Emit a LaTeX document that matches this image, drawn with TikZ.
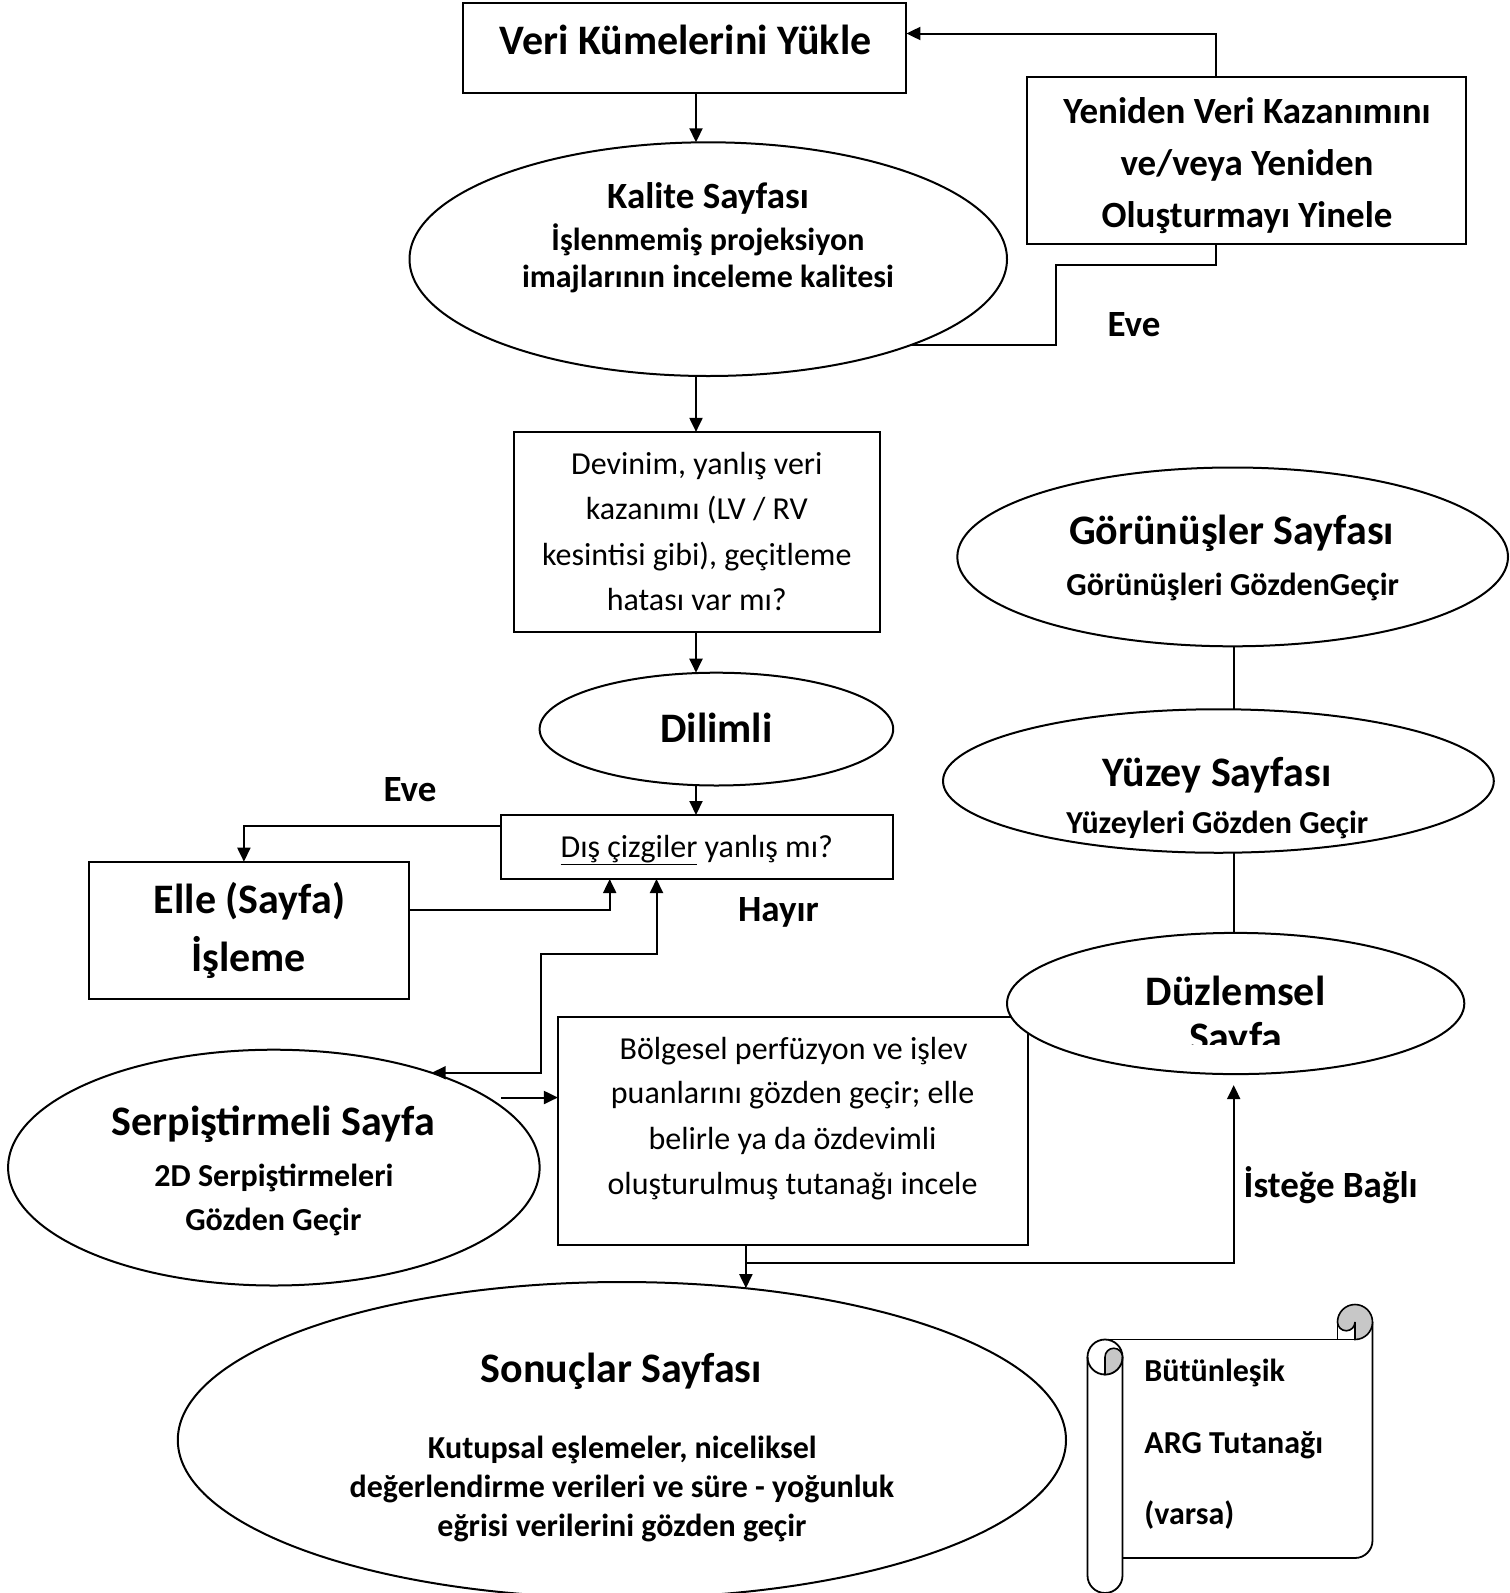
\documentclass[tikz,border=0pt]{standalone}
\usepackage{fontspec}
\setmainfont{Carlito}
\usetikzlibrary{arrows.meta,shapes.geometric}
\newcommand\fbig{\fontsize{42pt}{50pt}\selectfont\bfseries}
\newcommand\fmid{\fontsize{37pt}{44pt}\selectfont\bfseries}
\newcommand\fsb{\fontsize{32pt}{38pt}\selectfont\bfseries}
\newcommand\freg{\fontsize{32pt}{38pt}\selectfont}
\begin{document}
\begin{tikzpicture}[x=1pt,y=-1pt,
  shp/.style={draw,line width=2pt,inner sep=0pt,outer sep=0pt},
  boxs/.style={shp,rectangle},
  ell/.style={shp,ellipse},
  tx/.style={inner sep=0pt,anchor=base},
  conn/.style={line width=2pt},
  arr/.style={conn,-{Triangle[length=14pt,width=13pt]}},
  arrb/.style={conn,{Triangle[length=14pt,width=13pt]}-{Triangle[length=14pt,width=13pt]}},
  rollgrey/.style={fill=black!22,draw,line width=1.6pt},
  scl/.style={line width=1.8pt}]
\useasboundingbox (0,0) rectangle (1510,1593);
\fill[white] (0,0) rectangle (1510,1593);

% helper coordinates
\coordinate (ax) at (696,0);
\coordinate (yx) at (1216.4,0);
\coordinate (ya) at (0,33.5);
\coordinate (ex) at (1055.8,265.2);
\coordinate (c2) at (0,909.5);
\coordinate (c3) at (609.7,0);
\coordinate (c4) at (0,826);
\coordinate (c5) at (243.9,0);
\coordinate (c1) at (656.5,0);
\coordinate (sb) at (540.6,954.2);
\coordinate (c6) at (745.9,0);
\coordinate (c7) at (0,1263.1);
\coordinate (c8) at (1233.7,0);
\coordinate (sa) at (501,1097.5);

% shapes
\node[boxs,minimum width=443pt,minimum height=89.5pt] (veri) at (684.9,47.75) {};
\node[ell,minimum width=597.5pt,minimum height=233.7pt] (kalite) at (708.25,259.15) {};
\node[boxs,minimum width=439pt,minimum height=166.7pt] (yen) at (1246.9,160.55) {};
\node[boxs,minimum width=365.8pt,minimum height=200.1pt] (dev) at (697.1,531.95) {};
\node[ell,minimum width=353.6pt,minimum height=112.8pt] (dil) at (716.4,729.1) {};
\node[boxs,minimum width=392.2pt,minimum height=64pt] (dis) at (697.1,847) {};
\node[boxs,minimum width=319.1pt,minimum height=137.3pt] (elle) at (248.95,930.35) {};
\node[ell,minimum width=531.5pt,minimum height=235.8pt] (serp) at (273.85,1167.6) {};
\node[boxs,minimum width=470.5pt,minimum height=227.6pt] (bol) at (793.15,1131) {};
\node[ell,fill=white,minimum width=457.3pt,minimum height=141.2pt] (duz) at (1235.65,1003.5) {};
\node[ell,minimum width=550.7pt,minimum height=178.8pt] (gor) at (1232.65,556.9) {};
\node[ell,minimum width=550.8pt,minimum height=143.5pt] (yuz) at (1218.4,781) {};
\node[ell,minimum width=888.2pt,minimum height=316pt] (sonuc) at (621.9,1440) {};

% texts
\node[tx,font=\fbig] (t1) at (685.5,54) {Veri Kümelerini Yükle};
\node[tx,font=\fmid] (t2) at (708,208.5) {Kalite Sayfası};
\node[tx,font=\fsb] (t3) at (708,250) {İşlenmemiş projeksiyon};
\node[tx,font=\fsb] (t4) at (708,287.5) {imajlarının inceleme kalitesi};
\node[tx,font=\fmid] (t5) at (1247,123) {Yeniden Veri Kazanımını};
\node[tx,font=\fmid] (t6) at (1247,175.5) {ve/veya Yeniden};
\node[tx,font=\fmid] (t7) at (1247,227.5) {Oluşturmayı Yinele};
\node[tx,font=\fmid] (eve1) at (1134,336) {Eve};
\node[tx,font=\freg] (t8) at (696.8,474) {Devinim, yanlış veri};
\node[tx,font=\freg] (t9) at (696.8,519.5) {kazanımı (LV / RV};
\node[tx,font=\freg] (t10) at (696.8,565) {kesintisi gibi), geçitleme};
\node[tx,font=\freg] (t11) at (696.8,610.5) {hatası var mı?};
\node[tx,font=\fbig] (t12) at (716.4,742) {Dilimli};
\node[tx,font=\freg] (t13) at (696.8,857) {\underline{Dış çizgiler} yanlış mı?};
\node[tx,font=\fmid] (eve2) at (410,801) {Eve};
\node[tx,font=\fbig] (t14) at (249.5,913) {Elle (Sayfa)};
\node[tx,font=\fbig] (t15) at (248.5,971) {İşleme};
\node[tx,font=\fmid] (hay) at (778.4,921.5) {Hayır};
\node[tx,font=\fbig] (t16) at (273.4,1135) {Serpiştirmeli Sayfa};
\node[tx,font=\fsb] (t17) at (274,1186) {2D Serpiştirmeleri};
\node[tx,font=\fsb] (t18) at (273.4,1230.5) {Gözden Geçir};
\node[tx,font=\freg] (t19) at (793.6,1059) {Bölgesel perfüzyon ve işlev};
\node[tx,font=\freg] (t20) at (792.6,1103.5) {puanlarını gözden geçir; elle};
\node[tx,font=\freg] (t21) at (792.6,1149) {belirle ya da özdevimli};
\node[tx,font=\freg] (t22) at (792.6,1194) {oluşturulmuş tutanağı incele};
\node[tx,font=\fbig] (t23) at (1235.7,1005) {Düzlemsel};
\begin{scope}
  \clip (1000,900) rectangle (1470,1044.6);
  \node[tx,font=\fbig] (t24) at (1235.7,1051) {Sayfa};
\end{scope}
\node[tx,font=\fbig] (t25) at (1231.6,544.5) {Görünüşler Sayfası};
\node[tx,font=\fsb] (t26) at (1232.7,595) {Görünüşleri GözdenGeçir};
\node[tx,font=\fbig] (t27) at (1217,786) {Yüzey Sayfası};
\node[tx,font=\fsb] (t28) at (1217.4,833.5) {Yüzeyleri Gözden Geçir};
\node[tx,font=\fmid] (ist) at (1330.7,1197) {İsteğe Bağlı};
\node[tx,font=\fbig] (t29) at (621.4,1382) {Sonuçlar Sayfası};
\node[tx,font=\fsb] (t30) at (622.4,1458) {Kutupsal eşlemeler, niceliksel};
\node[tx,font=\fsb] (t31) at (622,1497) {değerlendirme verileri ve süre - yoğunluk};
\node[tx,font=\fsb] (t32) at (622,1536) {eğrisi verilerini gözden geçir};

% connectors
\draw[arr] (veri.south -| ax) -- (kalite.north -| ax);
\draw[arr] (yen.north -| yx) |- (veri.east |- ya);
\draw[conn] (yen.south -| yx) |- (ex) |- (kalite.-23.2);
\draw[arr] (kalite.south -| ax) -- (dev.north -| ax);
\draw[arr] (dev.south -| ax) -- (dil.north -| ax);
\draw[arr] (dil.south -| ax) -- (dis.north -| ax);
\draw[arr] (dis.west |- c4) -| (elle.north -| c5);
\draw[arr] (elle.east |- c2) -| (dis.south -| c3);
\draw[arrb] (serp.31.8) -| (sb) -| (dis.south -| c1);
\draw[arr] (sa) -- (bol.west |- sa);
\draw[arr] (bol.south -| c6) -- (c6 |- sonuc.51.2);
\draw[arr,shorten >=11pt] (c6 |- c7) -| (duz.south -| c8);
\draw[conn] (gor.south -| c8) -- (yuz.north -| c8);
\draw[conn] (yuz.south -| c8) -- (duz.north -| c8);

% scroll (Bütünleşik ARG Tutanağı)
\coordinate (rc) at (1355,1322);
\coordinate (lc) at (1105,1357);
\draw[scl] (1105,1339.5) -- (1355,1339.5);
\draw[scl] (1372.5,1322) -- (1372.5,1540.5) arc[start angle=0,end angle=90,radius=17.5] -- (1122.5,1558);
\draw[rollgrey] (1337.5,1322) arc[start angle=180,end angle=450,radius=17.5] -- (1355,1322) arc[start angle=0,end angle=180,radius=8.75] -- cycle;
\draw[scl] (1337.5,1322) -- (1337.5,1339.5);
\draw[scl,fill=white] (lc) circle[radius=17.5];
\draw[rollgrey] (1105,1357) arc[start angle=180,end angle=360,radius=8.75] arc[start angle=0,end angle=90,radius=17.5] -- cycle;
\draw[scl] (1087.5,1357) -- (1087.5,1575.5) arc[start angle=180,end angle=0,radius=17.5] -- (1122.5,1357);
\node[tx,anchor=base west,font=\fsb] (s1) at (1144.2,1381) {Bütünleşik};
\node[tx,anchor=base west,font=\fsb] (s2) at (1144.2,1453) {ARG Tutanağı};
\node[tx,anchor=base west,font=\fsb] (s3) at (1144.2,1524) {(varsa)};
\end{tikzpicture}
\end{document}
